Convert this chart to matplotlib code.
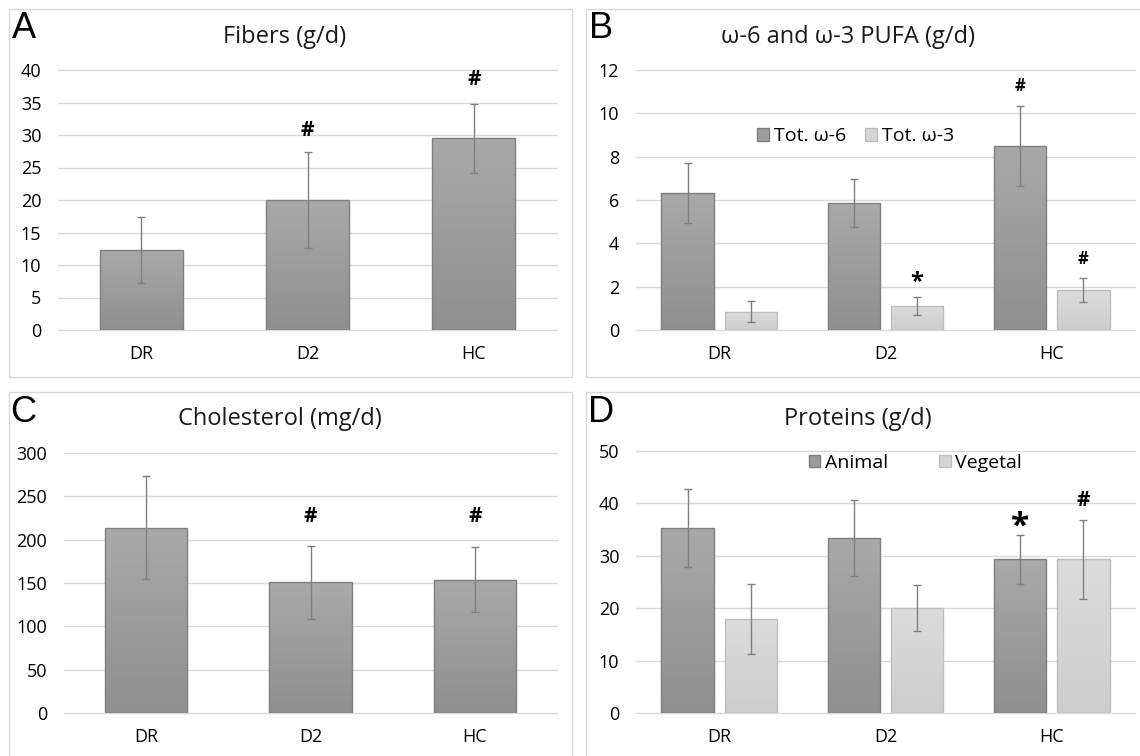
import numpy as np
import matplotlib.pyplot as plt
from matplotlib.colors import LinearSegmentedColormap
from matplotlib.patches import Patch, Rectangle

plt.rcParams['font.family'] = ['Open Sans', 'DejaVu Sans']

groups = ['DR', 'D2', 'HC']

# A - fibers
fib = [12.3, 20.0, 29.5]
fib_err = [5.1, 7.4, 5.3]

# B - PUFA
w6 = [6.32, 5.86, 8.5]
w6_err = [1.38, 1.09, 1.84]
w3 = [0.85, 1.12, 1.83]
w3_err = [0.47, 0.41, 0.55]

# C - cholesterol
chol = [214, 151, 154]
chol_err = [59, 42, 37]

# D - proteins
animal = [35.3, 33.4, 29.3]
animal_err = [7.5, 7.3, 4.7]
veg = [17.9, 20.1, 29.3]
veg_err = [6.7, 4.4, 7.6]

W, H = 1140, 756
dark = ('#a9a9a9', '#8f8f8f', '#7f7f7f')
light = ('#dcdcdc', '#cdcdcd', '#bdbdbd')
ecol = '#7f7f7f'

fig = plt.figure(figsize=(W / 100, H / 100), dpi=100)


def px(x0, y0, x1, y1):
    return [x0 / W, 1 - y1 / H, (x1 - x0) / W, (y1 - y0) / H]


def shade(ax, bars, top, bottom):
    grad = np.linspace(0, 1, 64).reshape(-1, 1)
    cmap = LinearSegmentedColormap.from_list('g', [bottom, top])
    for b in bars:
        x0, y0 = b.get_x(), b.get_y()
        im = ax.imshow(grad, extent=[x0, x0 + b.get_width(), y0, y0 + b.get_height()],
                       origin='lower', cmap=cmap, aspect='auto', zorder=1.5)
        im.set_clip_path(b)


def style(ax, ymax, step):
    ax.set_xlim(-0.5, 2.5)
    ax.set_ylim(0, ymax)
    ax.set_yticks(np.arange(0, ymax + 0.001, step))
    ax.set_xticks(range(3))
    ax.set_xticklabels(groups)
    for s in ax.spines.values():
        s.set_visible(False)
    ax.set_axisbelow(True)
    ax.yaxis.grid(True, color='#d9d9d9', lw=1)
    for gl in ax.get_ygridlines():
        gl.set_clip_on(False)
    ax.tick_params(length=0, labelsize=13, colors='#404040', labelcolor='#000000')
    ax.tick_params(axis='y', pad=12)
    ax.tick_params(axis='x', pad=11)


def bars(ax, x, vals, errs, width, col):
    b = ax.bar(x, vals, width, facecolor='none', edgecolor=col[2], lw=1, zorder=2)
    shade(ax, b, col[0], col[1])
    ax.errorbar(x, vals, yerr=errs, fmt='none', ecolor=ecol, elinewidth=1,
                capsize=3, capthick=1, zorder=3)


x = np.arange(3)
off = 0.19
bw = 0.315

# frames
for r in [(9, 9, 572, 377), (586, 9, 1150, 377), (9, 392, 572, 766), (586, 392, 1150, 766)]:
    fig.patches.append(Rectangle((r[0] / W, 1 - r[3] / H), (r[2] - r[0]) / W, (r[3] - r[1]) / H,
                                 transform=fig.transFigure, fill=False, edgecolor='#d9d9d9', lw=1))

# A
axA = fig.add_axes(px(58, 70, 557, 330))
bars(axA, x, fib, fib_err, 0.5, dark)
style(axA, 40, 5)
axA.text(1, 30.7, '#', ha='center', va='center', fontsize=15, fontweight='bold')
axA.text(2, 38.6, '#', ha='center', va='center', fontsize=15, fontweight='bold')

# B
axB = fig.add_axes(px(636, 70, 1135, 330))
bars(axB, x - off, w6, w6_err, bw, dark)
bars(axB, x + off, w3, w3_err, bw, light)
style(axB, 12, 2)
axB.text(2 - off, 11.24, '#', ha='center', va='center', fontsize=12, fontweight='bold')
axB.text(1 + off, 2.2, '*', ha='center', va='center', fontsize=17, fontweight='bold')
axB.text(2 + off, 3.29, '#', ha='center', va='center', fontsize=12, fontweight='bold')
hB = [Patch(facecolor='#9c9c9c', edgecolor=dark[2], label='Tot. ω-6'),
      Patch(facecolor='#d5d5d5', edgecolor=light[2], label='Tot. ω-3')]
axB.legend(handles=hB, loc='center', bbox_to_anchor=(0.44, 0.745), ncol=2, frameon=False,
           fontsize=14, handlelength=0.6, handleheight=0.6, handletextpad=0.25, columnspacing=1.0)

# C
axC = fig.add_axes(px(64, 453, 557, 713))
bars(axC, x, chol, chol_err, 0.5, dark)
style(axC, 300, 50)
axC.text(1, 227, '#', ha='center', va='center', fontsize=15, fontweight='bold')
axC.text(2, 227, '#', ha='center', va='center', fontsize=15, fontweight='bold')

# D
axD = fig.add_axes(px(636, 451, 1135, 713))
bars(axD, x - off, animal, animal_err, bw, dark)
bars(axD, x + off, veg, veg_err, bw, light)
style(axD, 50, 10)
axD.text(2 - off, 35.5, '*', ha='center', va='center', fontsize=24, fontweight='bold')
axD.text(2 + off, 40.5, '#', ha='center', va='center', fontsize=15, fontweight='bold')
hD = [Patch(facecolor='#9c9c9c', edgecolor=dark[2], label='Animal'),
      Patch(facecolor='#d5d5d5', edgecolor=light[2], label='Vegetal')]
axD.legend(handles=hD, loc='center', bbox_to_anchor=(0.56, 0.955), ncol=2, frameon=False,
           fontsize=14, handlelength=0.6, handleheight=0.6, handletextpad=0.25, columnspacing=2.6)

# titles and panel letters
titles = [('Fibers (g/d)', 285, 37), ('ω-6 and ω-3 PUFA (g/d)', 848, 37),
          ('Cholesterol (mg/d)', 280, 419), ('Proteins (g/d)', 858, 419)]
for t, tx, ty in titles:
    fig.text(tx / W, 1 - ty / H, t, ha='center', va='center', fontsize=17, color='#1a1a1a')
letters = [('A', 12, 29), ('B', 589, 29), ('C', 10, 412), ('D', 588, 412)]
for t, lx, ly in letters:
    fig.text(lx / W, 1 - ly / H, t, ha='left', va='center', fontsize=26,
             family='Liberation Sans')

fig.savefig('out.png', dpi=100)
